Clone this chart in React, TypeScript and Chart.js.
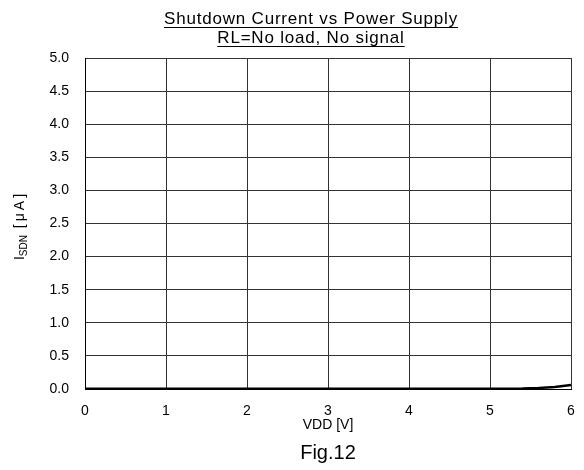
import React, { useEffect, useRef } from "react";
import { Chart, registerables } from "chart.js";

Chart.register(...registerables);

const vdd: number[] = [0, 1, 2, 3, 4, 5, 5.4, 5.6, 5.8, 6.0];
const isdn: number[] = [0.004, 0.004, 0.004, 0.004, 0.004, 0.005, 0.008, 0.015, 0.03, 0.06];
const xTicks: number[] = [0, 1, 2, 3, 4, 5, 6];
const yTicks: string[] = ["0.0", "0.5", "1.0", "1.5", "2.0", "2.5", "3.0", "3.5", "4.0", "4.5", "5.0"];
const titleLines: string[] = ["Shutdown Current vs Power Supply", "RL=No load, No signal"];
const xLabel = "VDD [V]";
const yLabelMain = "I";
const yLabelSub = "SDN";
const yLabelRest = " [μA]";
const figLabel = "Fig.12";

const FONT = '"Liberation Sans", Arial, sans-serif';

const textPlugin = {
  id: "customText",
  afterDraw(chart: any) {
    const ctx: CanvasRenderingContext2D = chart.ctx;
    const area = chart.chartArea;
    const cx = area.left + (area.right - area.left) / 2;
    ctx.save();
    ctx.fillStyle = "#000";
    ctx.strokeStyle = "#000";
    ctx.textBaseline = "alphabetic";
    ctx.textAlign = "center";
    // title
    ctx.font = `17px ${FONT}`;
    (ctx as any).letterSpacing = "0.8px";
    const titleX = 311;
    const baselines = [24, 43];
    titleLines.forEach((t, i) => {
      ctx.fillText(t, titleX, baselines[i]);
      const w = ctx.measureText(t).width;
      ctx.lineWidth = 1.2;
      ctx.beginPath();
      ctx.moveTo(titleX - w / 2, baselines[i] + 3.5);
      ctx.lineTo(titleX + w / 2, baselines[i] + 3.5);
      ctx.stroke();
    });
    (ctx as any).letterSpacing = "0px";
    // x label
    ctx.font = `14px ${FONT}`;
    ctx.fillText(xLabel, cx, area.bottom + 40);
    // fig label
    ctx.font = `20px ${FONT}`;
    ctx.fillText(figLabel, cx, area.bottom + 70);
    // y label
    ctx.save();
    const ly = area.top + (area.bottom - area.top) / 2 + 2;
    ctx.translate(24, ly);
    ctx.rotate(-Math.PI / 2);
    ctx.textAlign = "left";
    ctx.font = `14px ${FONT}`;
    const w1 = ctx.measureText(yLabelMain).width;
    ctx.font = `10px ${FONT}`;
    const w2 = ctx.measureText(yLabelSub).width;
    ctx.font = `14px ${FONT}`;
    (ctx as any).letterSpacing = "3px";
    const w3 = ctx.measureText(yLabelRest).width;
    (ctx as any).letterSpacing = "0px";
    const total = w1 + w2 + w3;
    let x = -total / 2;
    ctx.fillText(yLabelMain, x, 0);
    x += w1;
    ctx.font = `10px ${FONT}`;
    ctx.fillText(yLabelSub, x, 3);
    x += w2;
    ctx.font = `14px ${FONT}`;
    (ctx as any).letterSpacing = "3px";
    ctx.fillText(yLabelRest, x, 0);
    (ctx as any).letterSpacing = "0px";
    ctx.restore();
    ctx.restore();
  },
};

export default function App() {
  const ref = useRef<HTMLCanvasElement | null>(null);
  useEffect(() => {
    if (!ref.current) return;
    const chart = new Chart(ref.current, {
      type: "line",
      data: {
        datasets: [
          {
            data: vdd.map((v, i) => ({ x: v, y: isdn[i] })),
            borderColor: "#000",
            borderWidth: 2.5,
            pointRadius: 0,
            tension: 0,
            clip: false as any,
          },
        ],
      },
      options: {
        animation: false,
        responsive: false,
        layout: { padding: { top: 58, right: 13, bottom: 0, left: 0 } },
        plugins: { legend: { display: false }, tooltip: { enabled: false }, title: { display: false } },
        scales: {
          x: {
            type: "linear",
            min: 0,
            max: 6,
            afterBuildTicks: (s: any) => {
              s.ticks = xTicks.map((v) => ({ value: v }));
            },
            afterFit: (s: any) => {
              s.height = 81;
              s.paddingRight = 0;
              s.paddingLeft = 0;
            },
            ticks: { color: "#000", font: { size: 14, family: FONT }, padding: 14, maxRotation: 0 },
            grid: { color: "#333", lineWidth: 1, drawTicks: false },
            border: { color: "#000", width: 1 },
          },
          y: {
            type: "linear",
            min: 0,
            max: 5,
            afterBuildTicks: (s: any) => {
              s.ticks = yTicks.map((t) => ({ value: parseFloat(t) }));
            },
            afterFit: (s: any) => {
              s.width = 85;
              s.paddingTop = 0;
              s.paddingBottom = 0;
            },
            ticks: {
              color: "#000",
              font: { size: 14, family: FONT },
              padding: 16,
              callback: (v: any) => Number(v).toFixed(1),
            },
            grid: { color: "#333", lineWidth: 1, drawTicks: false },
            border: { color: "#000", width: 1 },
          },
        },
      },
      plugins: [textPlugin],
    });
    return () => chart.destroy();
  }, []);
  return (
    <div style={{ position: "fixed", left: 0, top: 0, width: 584, height: 470, background: "#fff" }}>
      <canvas ref={ref} width={584} height={470} style={{ width: 584, height: 470, display: "block" }} />
    </div>
  );
}
